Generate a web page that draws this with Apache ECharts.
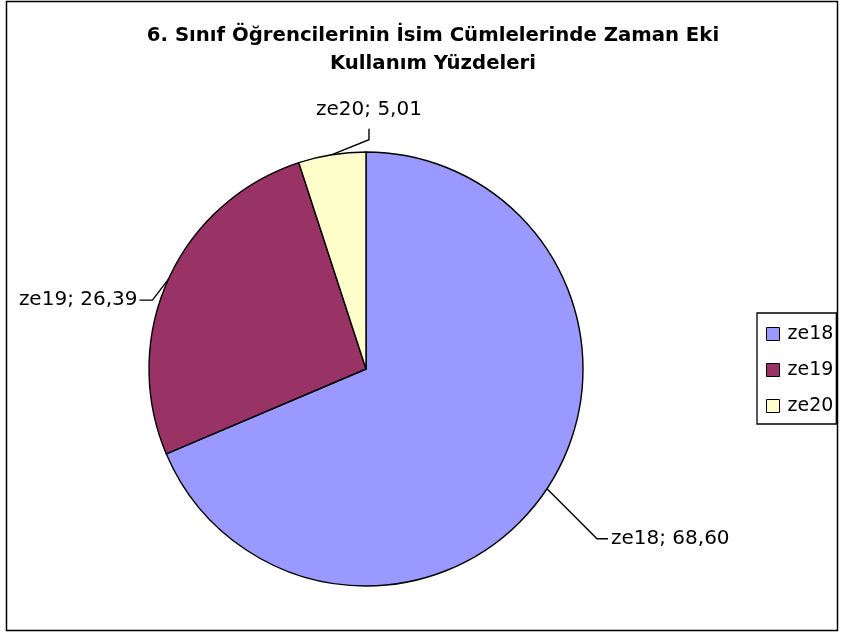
<!DOCTYPE html>
<html>
<head>
<meta charset="utf-8">
<script src="https://cdn.jsdelivr.net/npm/echarts@6/dist/echarts.min.js"></script>
<style>
  html, body { margin: 0; padding: 0; background: #fff; }
  #chart { width: 841px; height: 633px; }
</style>
</head>
<body>
<div id="chart"></div>
<script>
const categories = ["ze18", "ze19", "ze20"];
const values = [68.60, 26.39, 5.01];
const colors = ["#9999FF", "#993366", "#FFFFCC"];
const titleText = "6. Sınıf Öğrencilerinin İsim Cümlelerinde Zaman Eki\nKullanım Yüzdeleri";

const FONT = "DejaVu Sans";

// label line offsets from the slice edge: bend point, end point, text anchor
const labelPlaces = [
  { bend: [50, 50], end: [61, 50], text: [64, 50], align: "left" },
  { bend: [-16, 21], end: [-29, 21], text: [-31, 21], align: "right" },
  { bend: [37, -15], end: [37, -26], text: [37, -45], align: "center" },
];

const chart = echarts.init(document.getElementById("chart"));

const option = {
  animation: false,
  backgroundColor: "#ffffff",
  title: {
    text: titleText,
    left: 428,
    textAlign: "center",
    top: 17,
    textStyle: {
      fontFamily: FONT,
      fontSize: 19.7,
      fontWeight: "bold",
      color: "#000",
      lineHeight: 28,
    },
  },
  legend: {
    orient: "vertical",
    left: 757,
    top: 313,
    padding: [11, 3, 8, 9],
    itemGap: 16,
    itemWidth: 13,
    itemHeight: 13,
    borderColor: "#000",
    borderWidth: 1.3,
    icon: "rect",
    data: categories,
    itemStyle: { borderColor: "#000", borderWidth: 1 },
    textStyle: { fontFamily: FONT, fontSize: 19, lineHeight: 20, color: "#000", padding: [0, 0, 0, 3] },
  },
  graphic: [
    {
      type: "rect",
      shape: { x: 6.5, y: 1.5, width: 831, height: 629 },
      style: { fill: "none", stroke: "#000", lineWidth: 1.5 },
      silent: true,
    },
  ],
  series: [
    {
      type: "pie",
      center: [366, 369],
      radius: 217,
      startAngle: 90,
      clockwise: true,
      data: categories.map((c, i) => ({
        name: c,
        value: values[i],
        itemStyle: { color: colors[i] },
      })),
      itemStyle: { borderColor: "#000", borderWidth: 1.4 },
      label: {
        show: true,
        position: "outside",
        fontFamily: FONT,
        fontSize: 20,
        color: "#000",
        formatter: (p) => p.name + "; " + p.value.toFixed(2).replace(".", ","),
      },
      labelLine: {
        show: true,
        length: 20,
        length2: 12,
        lineStyle: { color: "#000", width: 1.4 },
      },
      labelLayout: function (p) {
        const s = p.labelLinePoints[0];
        const lp = labelPlaces[p.dataIndex];
        return {
          x: s[0] + lp.text[0],
          y: s[1] + lp.text[1],
          align: lp.align,
          verticalAlign: "middle",
          labelLinePoints: [
            [s[0], s[1]],
            [s[0] + lp.bend[0], s[1] + lp.bend[1]],
            [s[0] + lp.end[0], s[1] + lp.end[1]],
          ],
        };
      },
    },
  ],
};

chart.setOption(option);
</script>
</body>
</html>
